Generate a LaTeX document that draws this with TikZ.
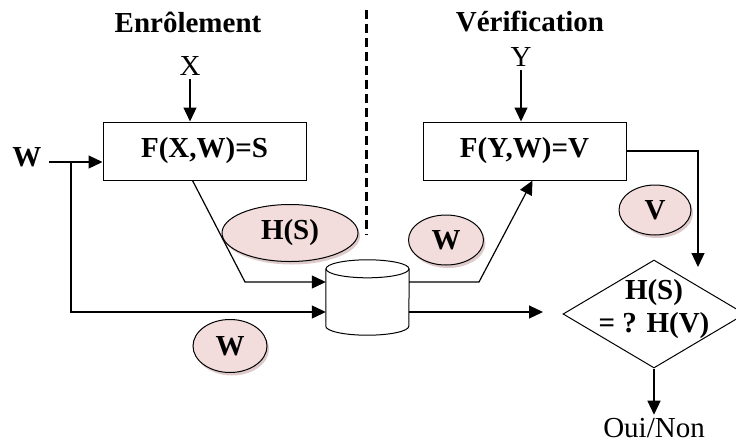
\documentclass[tikz,border=0pt]{standalone}
\usepackage{fontspec}
\setmainfont{Liberation Serif}
\usetikzlibrary{shapes.geometric,shadows,arrows.meta}
\definecolor{tagpink}{RGB}{242,221,220}
\definecolor{tagshadow}{RGB}{190,150,150}
\newcommand{\diagfont}{\fontsize{29}{33}\selectfont}

\begin{document}
\begin{tikzpicture}[x=1pt,y=-1pt,font=\diagfont]
\useasboundingbox (0,0) rectangle (736,445);
% Define styles
\tikzstyle{block} = [rectangle, draw=black, line width=1pt, minimum width=203pt, minimum height=58pt, font=\diagfont\bfseries]
\tikzstyle{tag} = [ellipse, draw=black, line width=1pt, fill=tagpink, font=\diagfont\bfseries, inner sep=0pt, drop shadow={shadow xshift=2pt, shadow yshift=-3pt, fill=tagshadow}]
\tikzstyle{store} = [rectangle, minimum width=83pt, minimum height=75pt, inner sep=0pt]
\tikzstyle{test} = [diamond, draw=black, line width=1pt, minimum width=182pt, minimum height=108pt, inner sep=0pt]
\tikzstyle{arrow} = [line width=1.2pt,->,>={Triangle[length=14pt,width=13pt]}]

% Draw nodes
\node (title1) [font=\diagfont\bfseries] at (188,22) {Enrôlement};
\node (title2) [font=\diagfont\bfseries] at (530,22) {Vérification};
\node (x) at (190,66) {X};
\node (y) at (521,57) {Y};
\node (enr) [block] at (204.5,151) {F(X,W)=S};
\node (ver) [block] at (524.5,151) {F(Y,W)=V};
\node (wleft) [font=\diagfont\bfseries] at (27,157) {W};
\node (hs) [tag, minimum width=136pt, minimum height=57pt] at (290,233) {H(S)};
\node (wright) [tag, minimum width=75pt, minimum height=50pt] at (446,240) {W};
\node (v) [tag, minimum width=72pt, minimum height=50pt] at (655,210) {V};
\node (wlow) [tag, minimum width=74pt, minimum height=53pt] at (230,346) {W};
\node (db) [store] at (367.5,297.5) {};
\node (cmp) [test] at (654,314) {};
\node (cmptext) [font=\diagfont\bfseries, align=center] at (654,309) {H(S)\\= ? H(V)};
\node (out) at (654,428) {Oui/Non};

% Cylinder outline
\draw [line width=1pt] ([yshift=-9pt]db.north west) -- ([yshift=9pt]db.south west)
  arc [start angle=180, end angle=360, x radius=41.5pt, y radius=9pt] -- ([yshift=-9pt]db.north east);
\draw [line width=1pt, fill=white] ([yshift=-9pt]db.north) ellipse [x radius=41.5pt, y radius=9pt];

% Bends
\coordinate (wsplit) at (71,162);
\coordinate (wcorner) at (71,312);
\coordinate (hsbend) at (245,282);
\coordinate (dbbend) at (479,282);
\coordinate (vbend) at (698,151);
\coordinate (vend) at (698,267);
\coordinate (cmpin) at (543,312);

% Draw arrows
\draw [arrow] (x) -- (x |- enr.north);
\draw [arrow] (y) -- (y |- ver.north);
\draw [arrow] ([xshift=4pt]wleft.east |- wsplit) -- (wsplit -| enr.west);
\draw [arrow] (wsplit) -- (wcorner) -- (wcorner -| db.west);
\draw [arrow] ([xshift=-12pt]enr.south) -- (hsbend) -- (hsbend -| db.west);
\draw [arrow] (hsbend -| db.east) -- (dbbend) -- ([xshift=8pt]ver.south);
\draw [arrow] (ver.east) -- (vbend) -- (vend);
\draw [arrow] (wcorner -| db.east) -- (cmpin);
\draw [arrow] (cmp.south) -- (out);

% Separator
\draw [line width=3pt, dash pattern=on 9pt off 5pt] (366,10) -- (366,235);

\end{tikzpicture}
\end{document}
